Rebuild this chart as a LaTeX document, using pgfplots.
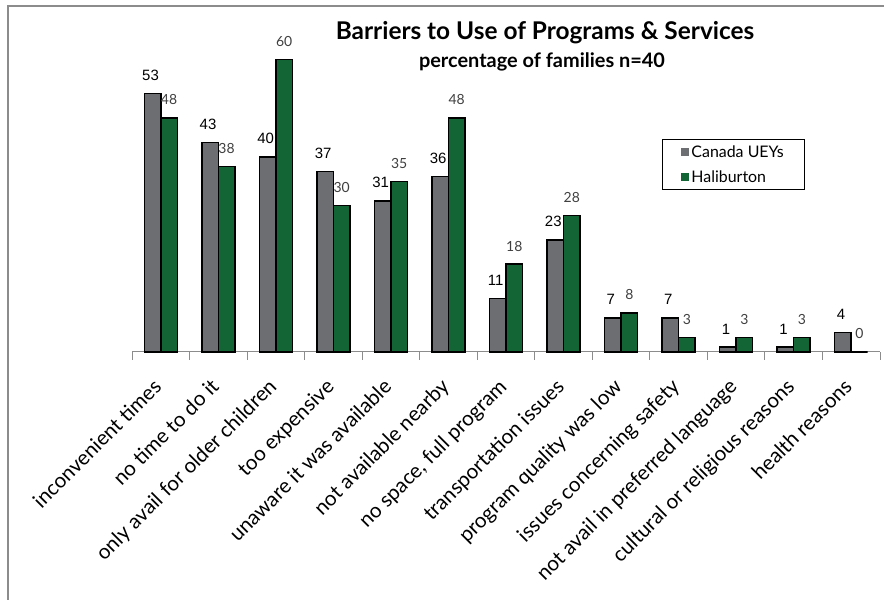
\documentclass[border=0pt]{standalone}
\usepackage{pgfplots}
\pgfplotsset{compat=1.18}
\usepackage{fontspec}
\setmainfont{Lato}
\newfontfamily\arialf{Liberation Sans}
\definecolor{barGrey}{HTML}{6D6E72}
\definecolor{barGreen}{HTML}{146535}
\definecolor{frameGrey}{HTML}{8C8C8C}
\definecolor{lblGrey}{HTML}{404040}

\begin{document}
\begin{tikzpicture}
\useasboundingbox (0,0) rectangle (884bp,600bp);
\fill[white] (0,0) rectangle (884bp,600bp);
\draw[frameGrey, line width=2.5bp] (8bp,-5bp) -- (8bp,594bp) -- (890bp,594bp);

\node[anchor=base, font=\bfseries\fontsize{24.5}{24.5}\selectfont] at (545bp,560bp) {Barriers to Use of Programs \& Services};
\node[anchor=base, font=\bfseries\fontsize{20}{20}\selectfont] at (542bp,532bp) {percentage of families n=40};

\begin{axis}[
    at={(132bp,248bp)}, anchor=south west,
    scale only axis, width=748bp, height=317bp,
    xmin=-0.5, xmax=12.5, ymin=0, ymax=65,
    ybar=0pt, bar width=16.5bp,
    /pgf/number format/assume math mode=true,
    axis x line*=bottom, axis y line=none,
    x axis line style={frameGrey, line width=1bp, -},
    xtick={0,...,12}, major tick length=0pt,
    minor xtick={-0.5,0.5,...,12.5}, minor tick length=8bp,
    tick align=outside,
    minor tick style={frameGrey, line width=1bp},
    xticklabels={inconvenient times, no time to do it, only avail for older children,
      too expensive, unaware it was available, not available nearby,
      {no space, full program}, transportation issues, program quality was low,
      issues concerning safety, not avail in preferred language,
      cultural or religious reasons, health reasons},
    x tick label style={xshift=2bp, yshift=-36bp, rotate=45, anchor=base east, inner sep=0pt,
      font=\fontsize{20.7}{20.7}\selectfont},
    legend style={at={(0.7086,0.672)}, anchor=north west, draw=black,
      line width=0.8bp, font=\fontsize{16}{16}\selectfont,
      row sep=8bp, inner xsep=19bp, inner ysep=4bp, cells={anchor=west}},
    legend image code/.code={\fill[#1, draw=none] (0bp,-4bp) rectangle (8bp,4bp);},
    clip=false,
]
\addplot[fill=barGrey, draw=black, line width=1.5bp,
    nodes near coords,
    every node near coord/.append style={font=\arialf\fontsize{15}{15}\selectfont,
      text=black, anchor=base, inner sep=0pt, yshift=13bp, xshift=-2bp}]
  coordinates {(0,53) (1,43) (2,40) (3,37) (4,31) (5,36) (6,11) (7,23) (8,7) (9,7) (10,1) (11,1) (12,4)};
\addplot[fill=barGreen, draw=black, line width=1.5bp,
    nodes near coords,
    every node near coord/.append style={font=\fontsize{14}{14}\selectfont,
      text=lblGrey, anchor=base, inner sep=0pt, yshift=13bp}]
  coordinates {(0,48) (1,38) (2,60) (3,30) (4,35) (5,48) (6,18) (7,28) (8,8) (9,3) (10,3) (11,3) (12,0)};
\legend{Canada UEYs, Haliburton}
\end{axis}
\end{tikzpicture}
\end{document}
